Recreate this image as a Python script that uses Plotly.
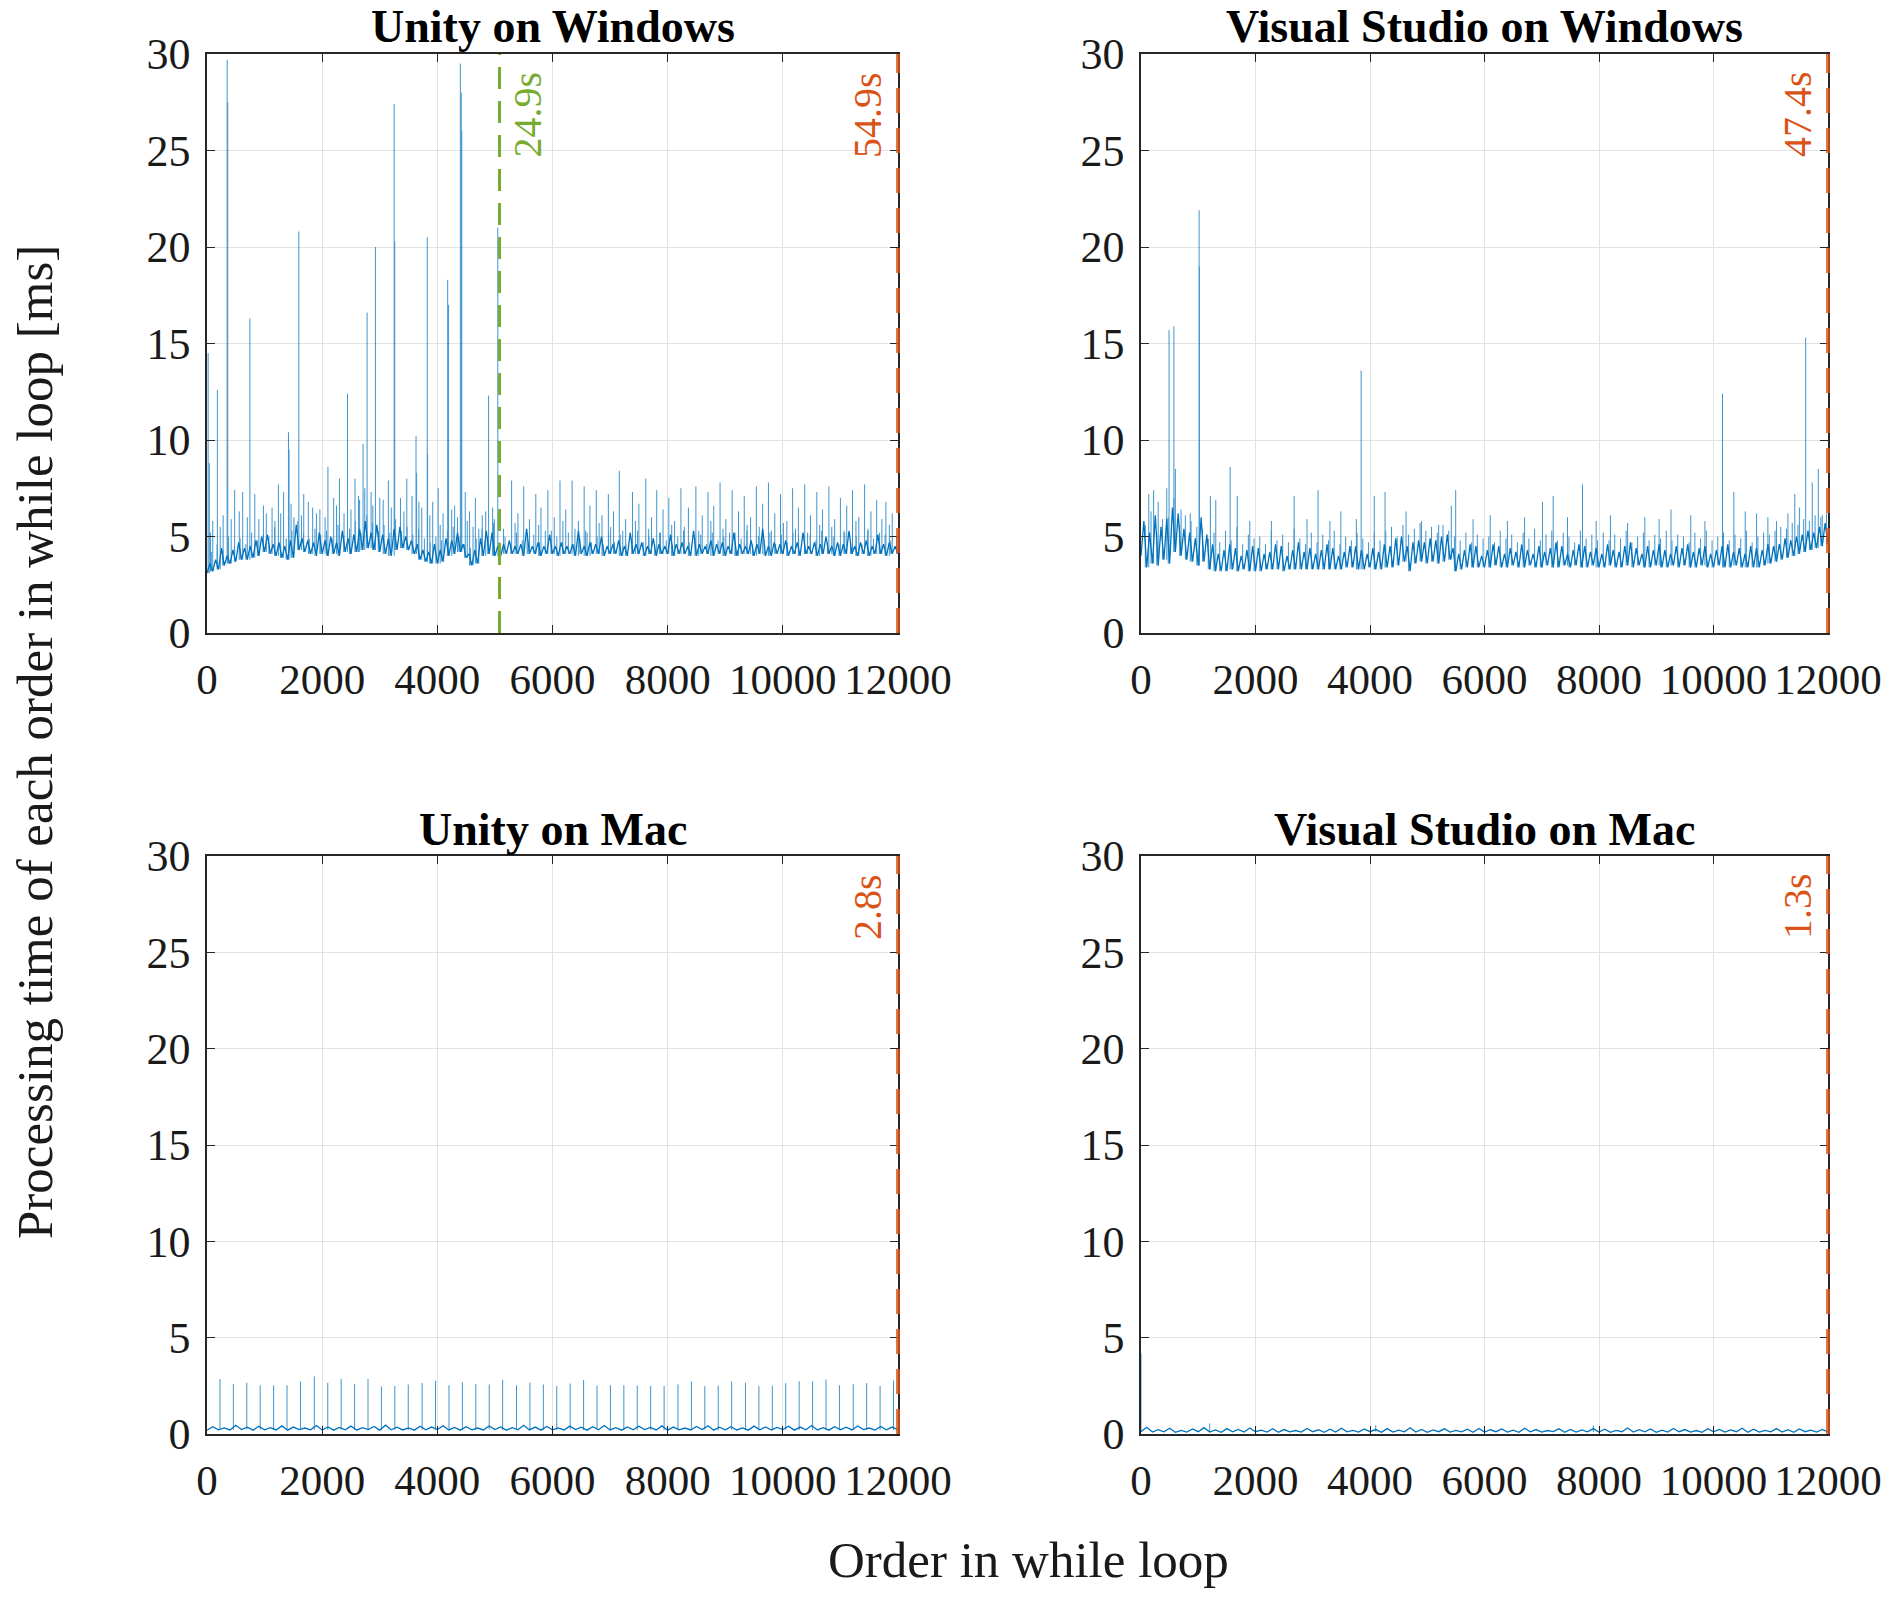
import plotly.graph_objects as go

# ---------------- data ----------------
# Each panel: a noisy band given as low values on a regular grid (step)
# and high values half a step later, small extra spikes a quarter step
# after the highs, plus a list of larger spikes (x, peak).

PANEL_TITLES = ["Unity on Windows", "Visual Studio on Windows",
                "Unity on Mac", "Visual Studio on Mac"]
TOTAL_TIMES = ["54.9s", "47.4s", "2.8s", "1.3s"]

X_TICKS = [0, 2000, 4000, 6000, 8000, 10000, 12000]
X_TICK_TEXT = ["0", "2000", "4000", "6000", "8000", "10000", "12000"]
Y_TICKS = [0, 5, 10, 15, 20, 25, 30]

# marker for Unity on Windows (green dashed line)
UW_MARK_X = 5080
UW_MARK_TEXT = "24.9s"

# Unity on Windows
UW_STEP = 100
UW_LO = [3.1, 3.2, 3.3, 3.5, 3.6, 3.7, 3.8, 3.8, 3.9, 4.0, 4.2,
         4.1, 4.0, 3.9, 3.8, 3.9, 4.3, 4.2, 4.1, 4.0, 4.1,
         4.0, 4.1, 4.0, 4.2, 4.1, 4.2, 4.3, 4.4, 4.3, 4.2,
         4.1, 4.0, 4.3, 4.4, 4.3, 4.1, 3.8, 3.7, 3.6, 3.6,
         3.7, 4.0, 4.1, 4.2, 3.9, 3.5, 3.6, 4.0, 4.1, 4.0,
         4.0, 4.1, 4.1, 4.1, 4.0, 4.1, 4.1, 4.0, 4.1, 4.1,
         4.0, 4.1, 4.1, 4.0, 4.1, 4.0, 4.1, 4.1, 4.0, 4.1,
         4.1, 4.0, 4.0, 4.1, 4.1, 4.0, 4.1, 4.0, 4.1, 4.1,
         4.0, 4.1, 4.1, 4.0, 4.0, 4.1, 4.1, 4.0, 4.1, 4.0,
         4.1, 4.0, 4.1, 4.1, 4.0, 4.1, 4.0, 4.0, 4.1, 4.1,
         4.0, 4.1, 4.0, 4.1, 4.1, 4.0, 4.1, 4.1, 4.0, 4.0,
         4.1, 4.1, 4.0, 4.1, 4.0, 4.1, 4.1, 4.0, 4.1, 4.1]
UW_HI = [3.6, 3.8, 4.4, 4.0, 4.3, 4.7, 4.4, 4.5, 4.8, 5.0,
         5.1, 4.6, 4.7, 4.5, 4.8, 5.6, 4.9, 4.8, 4.7, 5.2,
         4.8, 5.0, 4.7, 5.3, 4.9, 5.1, 5.4, 5.8, 5.2, 5.6,
         5.1, 4.9, 5.4, 5.5, 5.0, 4.8, 4.6, 4.3, 4.2, 4.6,
         4.3, 4.9, 4.8, 5.2, 4.6, 4.1, 4.3, 4.9, 5.3, 5.2,
         4.5, 4.6, 4.8, 4.5, 4.6, 5.4, 4.5, 4.7, 4.5, 5.1,
         4.5, 4.7, 4.5, 4.6, 5.3, 4.5, 4.7, 4.6, 5.0, 4.5,
         4.6, 4.8, 4.5, 5.2, 4.6, 4.7, 4.5, 4.9, 4.6, 4.5,
         5.1, 4.6, 4.7, 4.5, 5.3, 4.6, 4.5, 4.8, 4.6, 4.7,
         4.5, 5.2, 4.6, 4.5, 4.8, 4.6, 5.4, 4.5, 4.7, 4.6,
         4.8, 4.5, 4.7, 5.2, 4.5, 4.7, 4.6, 5.0, 4.5, 4.7,
         4.6, 5.3, 4.5, 4.7, 4.8, 4.5, 5.1, 4.6, 4.7, 4.5]
UW_MINOR = [4.2, 4.6, 4.3, 5.0, 4.5, 4.9, 4.6, 5.2, 4.8, 5.1,
            5.0, 5.5, 4.6, 4.9, 5.3, 5.8, 5.2, 4.9, 5.4, 5.1,
            5.3, 4.9, 5.6, 5.0, 5.4, 5.8, 5.2, 6.1, 5.7, 5.3,
            5.6, 5.2, 5.9, 5.3, 5.5, 5.1, 5.4, 4.9, 4.7, 5.0,
            4.8, 5.3, 5.5, 5.0, 4.6, 4.4, 4.9, 5.4, 5.0, 5.7,
            4.7, 5.0, 4.6, 5.2, 4.8, 4.6, 5.1, 4.7, 5.3, 4.6,
            5.0, 4.7, 5.2, 4.6, 4.9, 5.3, 4.7, 5.0, 4.6, 5.2,
            4.7, 5.1, 4.6, 4.9, 5.3, 4.7, 5.0, 4.6, 5.2, 4.8,
            4.6, 5.0, 5.3, 4.7, 4.9, 5.1, 4.6, 5.2, 4.8, 5.0,
            5.2, 4.7, 4.9, 5.3, 4.6, 5.0, 4.8, 5.2, 4.6, 5.1,
            4.7, 5.2, 4.9, 4.6, 5.1, 4.8, 5.3, 4.7, 5.0, 4.6,
            5.2, 4.8, 5.0, 4.6, 5.3, 4.9, 4.7, 5.1, 4.8, 5.0]
UW_SPIKE_X = [20, 40, 180, 350, 360, 620, 745, 830, 1030, 1240, 1415, 1425,
              1595, 1680, 1835, 2100, 2300, 2440, 2570, 2710, 2780, 2925,
              3250, 3260, 3470, 3630, 3640, 3825, 3830, 4015, 4180, 4195,
              4400, 4415, 4425, 4485, 4660, 4890, 5050,
              100, 280, 480, 560, 900, 1130, 1330, 1510, 1760, 1960, 2200,
              2380, 2630, 2850, 3060, 3150, 3360, 3560, 3730, 3920, 4100,
              4300, 4560, 4780, 4960,
              60, 230, 420, 700, 980, 1180, 1280, 1460, 1640, 1900, 2050,
              2250, 2500, 2650, 2740, 2880, 3000, 3200, 3420, 3680, 3870,
              4050, 4250, 4350, 4520, 4620, 4720, 4840, 4990,
              5290, 5500, 5710, 5920, 6130, 6340, 6550, 6760, 6970, 7160,
              7390, 7620, 7810, 8020, 8230, 8490, 8700, 8910, 9120, 9330,
              9540, 9750, 9960, 10170, 10380, 10590, 10800, 11000, 11210,
              11420, 11630, 11790,
              5400, 5600, 5800, 6030, 6230, 6450, 6650, 6860, 7060, 7270,
              7500, 7720, 7920, 8120, 8360, 8600, 8800, 9010, 9230, 9440,
              9650, 9860, 10070, 10270, 10480, 10690, 10900, 11110, 11320,
              11530, 11720, 11900,
              5150, 5350, 5560, 5760, 5980, 6180, 6390, 6600, 6810, 7010,
              7220, 7440, 7670, 7860, 8070, 8290, 8540, 8750, 8960, 9170,
              9380, 9590, 9800, 10010, 10220, 10430, 10640, 10850, 11060,
              11270, 11480, 11680, 11850]
UW_SPIKE_Y = [14.5, 8.8, 12.6, 29.7, 27.5, 7.3, 16.3, 7.2, 6.2, 7.7, 10.4, 9.5,
              20.8, 7.2, 6.5, 8.6, 8.0, 12.4, 8.0, 9.8, 16.6, 20.0,
              27.4, 20.3, 8.0, 10.2, 8.3, 20.5, 9.3, 7.5, 18.3, 17.0,
              29.5, 28.0, 26.0, 7.3, 7.0, 12.3, 21.0,
              5.8, 6.1, 7.4, 6.3, 5.9, 6.5, 7.3, 6.0, 6.8, 6.4, 7.0,
              6.2, 7.1, 7.3, 6.9, 7.9, 7.0, 7.1, 6.5, 6.8, 6.2,
              6.6, 6.3, 6.1, 6.5,
              5.2, 5.5, 5.9, 6.0, 6.6, 5.8, 6.2, 6.7, 6.1, 6.2, 6.0,
              6.6, 6.4, 6.9, 7.5, 6.6, 7.0, 6.5, 6.3, 6.8, 6.1,
              5.6, 6.4, 6.0, 5.8, 5.5, 5.4, 6.3, 5.9,
              7.9, 7.6, 7.2, 7.4, 7.9, 7.9, 7.6, 7.4, 7.2, 8.4,
              7.3, 8.0, 7.4, 7.0, 7.5, 7.6, 7.3, 7.8, 7.4, 7.1,
              7.6, 7.8, 7.2, 7.5, 7.7, 7.3, 7.6, 7.0, 7.4,
              7.7, 6.9, 6.8,
              6.2, 5.9, 6.5, 6.0, 6.4, 5.8, 6.6, 6.1, 6.3, 5.9,
              6.7, 6.0, 6.4, 5.8, 6.5, 6.1, 6.6, 5.9, 6.3, 6.0,
              6.7, 6.2, 5.8, 6.5, 6.1, 6.4, 5.9, 6.6, 6.0,
              6.3, 5.9, 6.2,
              5.4, 5.7, 5.2, 5.6, 5.3, 5.8, 5.4, 5.2, 5.7, 5.5,
              5.3, 5.8, 5.4, 5.2, 5.6, 5.5, 5.3, 5.8, 5.4, 5.2,
              5.6, 5.5, 5.3, 5.7, 5.4, 5.2, 5.6, 5.5, 5.3,
              5.8, 5.4, 5.2, 5.6]

# Visual Studio on Windows
VW_STEP = 100
VW_LO = [4.0, 3.4, 3.6, 3.5, 3.8, 3.6, 4.2, 4.0, 3.8, 3.7, 3.5,
         3.7, 3.3, 3.2, 3.2, 3.2, 3.3, 3.2, 3.3, 3.2, 3.2,
         3.2, 3.3, 3.3, 3.3, 3.2, 3.3, 3.3, 3.3, 3.3, 3.3,
         3.3, 3.3, 3.3, 3.3, 3.3, 3.4, 3.4, 3.3, 3.3, 3.4,
         3.3, 3.3, 3.4, 3.4, 3.5, 3.7, 3.2, 3.6, 3.7, 3.6,
         3.7, 3.6, 3.7, 3.8, 3.2, 3.3, 3.4, 3.4, 3.4, 3.4,
         3.4, 3.5, 3.4, 3.4, 3.5, 3.4, 3.4, 3.5, 3.4, 3.4,
         3.5, 3.4, 3.4, 3.5, 3.4, 3.5, 3.4, 3.4, 3.5, 3.4,
         3.4, 3.5, 3.4, 3.4, 3.5, 3.4, 3.5, 3.4, 3.4, 3.5,
         3.4, 3.4, 3.5, 3.4, 3.5, 3.4, 3.4, 3.5, 3.4, 3.4,
         3.5, 3.4, 3.4, 3.5, 3.4, 3.4, 3.4, 3.4,
         3.5, 3.6, 3.7, 3.8, 3.9, 4.0, 4.1, 4.2, 4.3, 4.4, 4.5, 4.6]
VW_HI = [5.8, 5.2, 6.1, 5.5, 5.9, 6.5, 6.2, 5.4, 5.2, 4.9,
         6.0, 5.1, 4.6, 4.1, 4.3, 4.6, 4.4, 4.0, 4.3, 4.5,
         4.4, 4.1, 4.2, 4.6, 4.5, 4.0, 4.3, 4.7, 4.2, 4.4,
         4.1, 4.3, 4.6, 4.4, 4.0, 4.2, 4.5, 4.5, 4.3, 4.1,
         4.4, 4.2, 4.6, 4.5, 4.9, 5.0, 4.5, 4.7, 4.8, 4.7,
         4.9, 4.8, 5.0, 5.1, 4.4, 4.1, 4.3, 4.6, 4.5, 4.0,
         4.3, 4.6, 4.5, 4.1, 4.4, 4.2, 4.6, 4.3, 4.1, 4.5,
         4.2, 4.4, 4.7, 4.5, 4.1, 4.3, 4.6, 4.5, 4.2, 4.4,
         4.1, 4.6, 4.3, 4.2, 4.5, 4.7, 4.4, 4.1, 4.5, 4.3,
         4.6, 4.3, 4.1, 4.5, 4.4, 4.6, 4.2, 4.4, 4.5, 4.1,
         4.3, 4.5, 4.6, 4.2, 4.4, 4.1, 4.5, 4.4, 4.3, 4.6,
         4.5, 4.6, 4.9, 4.8, 5.0, 5.1, 5.3, 5.2, 5.5, 5.7]
VW_MINOR = [5.6, 6.3, 5.2, 5.9, 6.0, 7.0, 5.6, 6.1, 5.8, 5.5,
            5.4, 4.9, 5.2, 4.7, 5.3, 4.8, 5.5, 4.6, 5.1, 4.9,
            5.0, 4.6, 5.3, 4.8, 5.1, 4.7, 5.4, 4.9, 4.6, 5.2,
            4.7, 5.1, 4.8, 5.3, 4.6, 5.0, 4.8, 5.2, 4.9, 4.7,
            5.2, 4.8, 5.3, 5.5, 5.0, 5.6, 5.1, 5.4, 5.7, 5.3,
            5.5, 5.2, 5.6, 5.3, 5.0, 4.8, 5.2, 4.7, 5.1, 4.9,
            5.0, 4.7, 5.3, 4.9, 5.1, 4.7, 5.2, 4.9, 5.4, 4.8,
            5.1, 5.3, 4.8, 5.2, 5.0, 4.7, 5.3, 4.9, 5.1, 4.8,
            5.2, 4.8, 5.1, 4.9, 5.3, 4.7, 5.0, 5.2, 4.8, 5.1,
            4.9, 5.3, 4.8, 5.1, 5.0, 4.7, 5.2, 4.9, 5.3, 4.8,
            5.0, 5.2, 4.8, 5.1, 4.9, 5.3, 4.7, 5.0, 5.2, 5.1,
            5.3, 5.5, 5.4, 5.7, 5.6, 5.9, 5.8, 6.1, 6.0, 6.2]
VW_SPIKE_X = [490, 575, 600, 1015, 1020, 1557, 3845, 10157, 11610, 11830, 11725,
              136, 220, 450, 300, 700, 860, 1212, 1306, 1682, 1900, 2278,
              2675, 2900, 3093, 3300, 3490, 3762, 4075, 4263, 4630, 4900,
              5200, 5497, 5420, 5800, 6100, 6400, 6700, 7012, 7200, 7450,
              7712, 7950, 8200, 8500, 8800, 9050, 9258, 9603, 9850, 10355,
              10554, 10753, 10950, 11100, 11300, 11420, 11500, 11900]
VW_SPIKE_Y = [15.7, 15.9, 8.5, 21.9, 19.0, 8.6, 13.6, 12.4, 15.3, 8.5, 7.8,
              7.2, 7.4, 7.5, 6.8, 6.4, 6.2, 7.1, 6.9, 7.1, 5.8, 5.8,
              7.1, 5.9, 7.4, 5.8, 6.3, 5.9, 7.1, 7.3, 6.3, 5.8,
              5.6, 7.4, 6.6, 5.9, 6.1, 5.8, 6.0, 6.8, 7.1, 6.0,
              7.7, 5.8, 6.1, 5.7, 6.0, 5.9, 6.4, 6.1, 5.8, 7.3,
              6.3, 6.2, 6.0, 5.8, 6.2, 7.2, 6.5, 6.1]

# Unity on Mac
UM_STEP = 200
UM_LO = [0.20, 0.22, 0.21, 0.23, 0.20, 0.22, 0.21, 0.20, 0.23, 0.22,
         0.21, 0.20, 0.22, 0.21, 0.23, 0.20, 0.22, 0.21, 0.20, 0.22,
         0.23, 0.21, 0.20, 0.22, 0.21, 0.23, 0.20, 0.22, 0.21, 0.20,
         0.22, 0.21, 0.23, 0.20, 0.22, 0.21, 0.20, 0.22, 0.23, 0.21,
         0.20, 0.22, 0.21, 0.23, 0.20, 0.22, 0.21, 0.20, 0.22, 0.21,
         0.23, 0.20, 0.22, 0.21, 0.20, 0.22, 0.21, 0.23, 0.20, 0.22, 0.21]
UM_HI = [0.38, 0.32, 0.45, 0.35, 0.40, 0.33, 0.42, 0.36, 0.31, 0.44,
         0.37, 0.34, 0.41, 0.33, 0.39, 0.46, 0.35, 0.32, 0.40, 0.36,
         0.43, 0.34, 0.38, 0.31, 0.42, 0.37, 0.33, 0.45, 0.36, 0.39,
         0.32, 0.41, 0.35, 0.38, 0.44, 0.33, 0.37, 0.40, 0.34, 0.42,
         0.36, 0.31, 0.39, 0.43, 0.35, 0.38, 0.32, 0.41, 0.37, 0.34,
         0.40, 0.36, 0.44, 0.33, 0.38, 0.35, 0.42, 0.31, 0.39, 0.36]
UM_SPIKE_X = [225, 458, 691, 924, 1157, 1390, 1623, 1864, 2097, 2330,
              2563, 2796, 3029, 3262, 3495, 3736, 3969, 4202, 4435, 4668,
              4901, 5134, 5375, 5608, 5841, 6074, 6307, 6540, 6773, 7006,
              7239, 7472, 7705, 7938, 8179, 8412, 8645, 8878, 9111, 9351,
              9584, 9817, 10050, 10283, 10517, 10750, 10983, 11223, 11456,
              11689, 11922]
UM_SPIKE_Y = [2.85, 2.60, 2.66, 2.53, 2.52, 2.53, 2.73, 2.99, 2.66, 2.86,
              2.60, 2.85, 2.47, 2.49, 2.57, 2.64, 2.76, 2.53, 2.69, 2.60,
              2.57, 2.81, 2.53, 2.67, 2.57, 2.49, 2.62, 2.80, 2.51, 2.53,
              2.53, 2.51, 2.49, 2.49, 2.57, 2.73, 2.49, 2.51, 2.73, 2.66,
              2.49, 2.51, 2.64, 2.74, 2.74, 2.83, 2.53, 2.58, 2.64, 2.49,
              2.78]

# Visual Studio on Mac
VM_STEP = 200
VM_LO = [0.12, 0.10, 0.11, 0.09, 0.10, 0.12, 0.10, 0.09, 0.11, 0.10,
         0.12, 0.10, 0.09, 0.11, 0.10, 0.12, 0.09, 0.10, 0.11, 0.10,
         0.12, 0.09, 0.10, 0.11, 0.10, 0.09, 0.12, 0.10, 0.11, 0.09,
         0.10, 0.12, 0.10, 0.09, 0.11, 0.10, 0.12, 0.09, 0.10, 0.11,
         0.10, 0.09, 0.12, 0.10, 0.11, 0.09, 0.10, 0.12, 0.10, 0.09,
         0.11, 0.10, 0.12, 0.09, 0.10, 0.11, 0.10, 0.09, 0.12, 0.10, 0.11]
VM_HI = [0.35, 0.22, 0.30, 0.19, 0.26, 0.33, 0.21, 0.28, 0.24, 0.31,
         0.20, 0.27, 0.23, 0.18, 0.29, 0.22, 0.25, 0.30, 0.19, 0.26,
         0.23, 0.28, 0.20, 0.32, 0.24, 0.21, 0.27, 0.19, 0.25, 0.29,
         0.22, 0.26, 0.20, 0.30, 0.23, 0.18, 0.27, 0.24, 0.21, 0.28,
         0.25, 0.19, 0.31, 0.22, 0.26, 0.20, 0.29, 0.23, 0.18, 0.27,
         0.24, 0.21, 0.30, 0.25, 0.19, 0.28, 0.22, 0.26, 0.20, 0.24]
VM_SPIKE_X = [0, 1200, 4100, 7900]
VM_SPIKE_Y = [4.2, 0.55, 0.45, 0.45]

PANELS = [
    (UW_STEP, UW_LO, UW_HI, UW_MINOR, UW_SPIKE_X, UW_SPIKE_Y),
    (VW_STEP, VW_LO, VW_HI, VW_MINOR, VW_SPIKE_X, VW_SPIKE_Y),
    (UM_STEP, UM_LO, UM_HI, [], UM_SPIKE_X, UM_SPIKE_Y),
    (VM_STEP, VM_LO, VM_HI, [], VM_SPIKE_X, VM_SPIKE_Y),
]

# ---------------- styling ----------------
FONT = "Liberation Serif"
BLUE = "#0072BD"
ORANGE = "#D95319"
GREEN = "#77AC30"
AXIS_COL = "#262626"
GRID_COL = "#e2e2e2"

# the page body puts the figure 8px in from every side, keep it inside the window
OFF = 8
W, H = 1890 - 2 * OFF, 1597 - 2 * OFF
# panel boxes in screen pixels (left, right, top, bottom)
BOXES = [(207, 898, 54, 633), (1141, 1828, 54, 633),
         (207, 898, 856, 1434), (1141, 1828, 856, 1434)]


def px(x):
    return (x - OFF) / W


def py(y):
    return 1 - (y - OFF) / H


def band_xy(step, lo, hi):
    xs, ys = [], []
    for i, v in enumerate(lo):
        xs.append(i * step)
        ys.append(v)
        if i < len(hi):
            xs.append(i * step + step / 2)
            ys.append(hi[i])
    return xs, ys


def spikes_xy(step, lo, sx, sy):
    xs, ys = [], []
    for x, y in zip(sx, sy):
        foot = lo[min(int(round(x / step)), len(lo) - 1)]
        xs += [x, x, None]
        ys += [foot, y, None]
    return xs, ys


fig = go.Figure()
layout = {}

for k, (step, lo, hi, minor, sx, sy) in enumerate(PANELS):
    n = "" if k == 0 else str(k + 1)
    left, right, top, bottom = BOXES[k]

    bx, by = band_xy(step, lo, hi)
    fig.add_trace(go.Scatter(x=bx, y=by, mode="lines", xaxis="x" + n, yaxis="y" + n,
                             line=dict(color=BLUE, width=1.3), showlegend=False,
                             hoverinfo="skip"))
    minor_x = [i * step + step * 0.75 for i in range(len(minor))]
    px_, py_ = spikes_xy(step, lo, list(sx) + minor_x, list(sy) + list(minor))
    fig.add_trace(go.Scatter(x=px_, y=py_, mode="lines", xaxis="x" + n, yaxis="y" + n,
                             line=dict(color=BLUE, width=1), opacity=0.75,
                             showlegend=False, hoverinfo="skip"))

    layout["xaxis" + n] = dict(
        domain=[px(left), px(right)], anchor="y" + n, range=[0, 12000],
        tickvals=X_TICKS, ticktext=X_TICK_TEXT, ticks="inside", ticklen=8,
        tickcolor=AXIS_COL, automargin=False,
        showline=True, linecolor=AXIS_COL, linewidth=1.5, mirror="allticks",
        showgrid=True, gridcolor=GRID_COL, gridwidth=1, zeroline=False,
        tickfont=dict(family=FONT, size=43, color="#1a1a1a"),
        ticklabelstandoff=8)
    layout["yaxis" + n] = dict(
        domain=[py(bottom), py(top)], anchor="x" + n, range=[0, 30],
        tickvals=Y_TICKS, ticks="inside", ticklen=8, tickcolor=AXIS_COL,
        automargin=False,
        showline=True, linecolor=AXIS_COL, linewidth=1.5, mirror="allticks",
        showgrid=True, gridcolor=GRID_COL, gridwidth=1, zeroline=False,
        tickfont=dict(family=FONT, size=44, color="#1a1a1a"),
        ticklabelstandoff=6)

    # total time marker at the right edge of the axis range
    fig.add_shape(type="line", xref="x" + n + " domain", yref="y" + n + " domain",
                  x0=1, x1=1, y0=0, y1=1, layer="above",
                  line=dict(color=ORANGE, width=4, dash="25px,15px"), opacity=0.8)
    fig.add_annotation(xref="x" + n, yref="y" + n, x=11470, y=29.2,
                       text=TOTAL_TIMES[k], textangle=-90, showarrow=False,
                       xanchor="center", yanchor="top",
                       font=dict(family=FONT, size=40, color=ORANGE))

    # panel title
    fig.add_annotation(xref="paper", yref="paper", x=px((left + right) / 2),
                       y=py(top - 27), text="<b>" + PANEL_TITLES[k] + "</b>",
                       showarrow=False, xanchor="center", yanchor="middle",
                       font=dict(family=FONT, size=46, color="black"))

# green marker on Unity on Windows
fig.add_shape(type="line", xref="x", yref="y", x0=UW_MARK_X, x1=UW_MARK_X,
              y0=0, y1=30, layer="above",
              line=dict(color=GREEN, width=3, dash="22px,12px"))
fig.add_annotation(xref="x", yref="y", x=UW_MARK_X + 480, y=29.2,
                   text=UW_MARK_TEXT, textangle=-90, showarrow=False,
                   xanchor="center", yanchor="top",
                   font=dict(family=FONT, size=40, color=GREEN))

# shared axis labels
fig.add_annotation(xref="paper", yref="paper", x=px(35), y=py(742),
                   text="Processing time of each order in while loop [ms]",
                   textangle=-90, showarrow=False, xanchor="center", yanchor="middle",
                   font=dict(family=FONT, size=51, color="#1a1a1a"))
fig.add_annotation(xref="paper", yref="paper", x=px(1028), y=py(1560),
                   text="Order in while loop", showarrow=False,
                   xanchor="center", yanchor="middle",
                   font=dict(family=FONT, size=51, color="#1a1a1a"))

fig.update_layout(width=W, height=H, margin=dict(l=0, r=0, t=0, b=0, autoexpand=False),
                  plot_bgcolor="white", paper_bgcolor="white", **layout)

fig.write_html("out.html")
